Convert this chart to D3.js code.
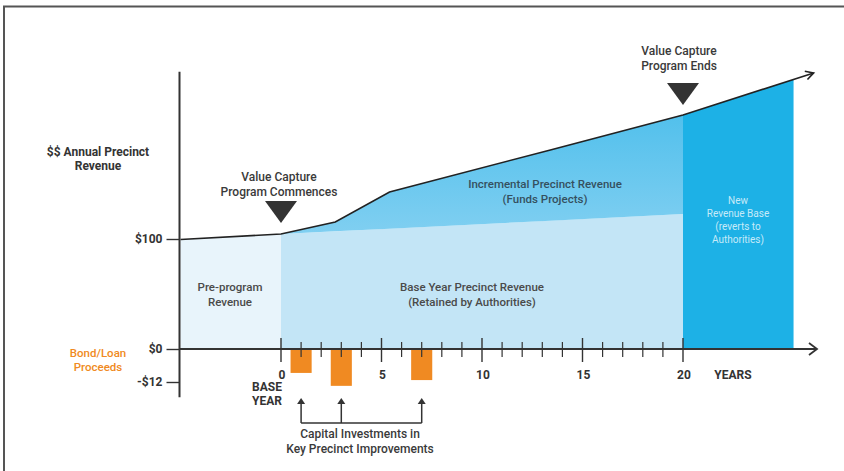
<!DOCTYPE html>
<html>
<head>
<meta charset="utf-8">
<script src="https://cdn.jsdelivr.net/npm/d3@7"></script>
<style>
  html, body { margin: 0; padding: 0; background: #fff; }
  svg { display: block; }
  text { font-family: Roboto, "Liberation Sans", sans-serif; }
</style>
</head>
<body>
<svg id="chart" width="844" height="471"></svg>
<script>
// ---- data ----
const revenueYears  = [-5, 0, 2.7, 5.4, 13.4, 20, 26.5];
const revenueValues = [99.5, 104.5, 115.5, 142.7, 181, 212.7, 251];
const baseYears  = [0, 20];
const baseValues = [104.5, 122.7];
const newBaseEndYear = 25.5;
const bondYears  = [1, 3, 7];
const bondValues = [-8.7, -13.4, -11.3];
const yTickValues = [100, 0, -12];
const yTickLabels = ["$100", "$0", "-$12"];
const xMajorTicks = [0, 5, 10, 15, 20];
const xMinorTicks = [1,2,3,4,6,7,8,9,11,12,13,14,16,17,18,19];
const arrowYears = [1, 3, 7];

const svg = d3.select("#chart");

// scales
const x = d3.scaleLinear().domain([0, 20]).range([281, 683]);
const y = d3.scaleLinear().domain([-12, 0, 100]).range([382, 349, 239]);

const revAt = d3.scaleLinear().domain(revenueYears).range(revenueValues);
const baseAt = d3.scaleLinear().domain(baseYears).range(baseValues);

// frame
svg.append("path").attr("d", "M4,471 V6.5 H844")
  .attr("fill", "none").attr("stroke", "#555").attr("stroke-width", 2);

const defs = svg.append("defs");
const g1 = defs.append("linearGradient").attr("id", "incGrad").attr("x1", 0).attr("y1", 0).attr("x2", 0).attr("y2", 1);
g1.append("stop").attr("offset", "0%").attr("stop-color", "#52c0ec");
g1.append("stop").attr("offset", "100%").attr("stop-color", "#80cff1");

const area = d3.area().x(d => x(d[0])).y0(d => y(d[2])).y1(d => y(d[1]));

// pre-program region
const preYears = revenueYears.filter(v => v <= 0);
svg.append("path")
  .datum(preYears.map(t => [t, revAt(t), 0]))
  .attr("d", area).attr("fill", "#e8f4fb");

// base year region
svg.append("path")
  .datum(baseYears.map((t, i) => [t, baseValues[i], 0]))
  .attr("d", area).attr("fill", "#c3e5f6");

// incremental region
const incYears = revenueYears.filter(v => v >= 0 && v <= 20);
svg.append("path")
  .datum(incYears.map(t => [t, revAt(t), baseAt(t)]))
  .attr("d", area).attr("fill", "url(#incGrad)");

// new revenue base region
const nbYears = [20, newBaseEndYear];
svg.append("path")
  .datum(nbYears.map(t => [t, revAt(t), 0]))
  .attr("d", area).attr("fill", "#1db1e6");

// revenue line
svg.append("path")
  .datum(revenueYears.map((t, i) => [t, revenueValues[i]]))
  .attr("d", d3.line().x(d => x(d[0])).y(d => y(d[1])))
  .attr("fill", "none").attr("stroke", "#222").attr("stroke-width", 1.6);
{
  const n = revenueYears.length;
  const x2 = x(revenueYears[n-1]), y2 = y(revenueValues[n-1]);
  const x1 = x(revenueYears[n-2]), y1 = y(revenueValues[n-2]);
  const ang = Math.atan2(y2 - y1, x2 - x1);
  const L = 9, a = 0.5;
  svg.append("path")
    .attr("d", `M${x2 - L*Math.cos(ang - a)},${y2 - L*Math.sin(ang - a)} L${x2},${y2} L${x2 - L*Math.cos(ang + a)},${y2 - L*Math.sin(ang + a)}`)
    .attr("fill", "none").attr("stroke", "#222").attr("stroke-width", 1.6);
}

// bond bars
const bw = x(1) - x(0) + 1;
svg.selectAll("rect.bond").data(bondYears).enter().append("rect")
  .attr("class", "bond")
  .attr("x", (d) => x(d) - bw/2)
  .attr("y", y(0))
  .attr("width", bw)
  .attr("height", (d, i) => y(bondValues[i]) - y(0))
  .attr("fill", "#f08a22");

// x axis line
const xAxisStart = x.invert(179), xAxisEnd = x.invert(817);
svg.append("line").attr("x1", x(xAxisStart)).attr("x2", x(xAxisEnd))
  .attr("y1", y(0)).attr("y2", y(0)).attr("stroke", "#333").attr("stroke-width", 2);
svg.append("path")
  .attr("d", `M${x(xAxisEnd)-8},${y(0)-6} L${x(xAxisEnd)},${y(0)} L${x(xAxisEnd)-8},${y(0)+6}`)
  .attr("fill", "none").attr("stroke", "#333").attr("stroke-width", 1.8);

// x ticks
svg.selectAll("line.major").data(xMajorTicks).enter().append("line")
  .attr("x1", d => x(d)).attr("x2", d => x(d))
  .attr("y1", y(0) - 11).attr("y2", y(0) + 13)
  .attr("stroke", "#333").attr("stroke-width", 1.4);
svg.selectAll("line.minor").data(xMinorTicks).enter().append("line")
  .attr("x1", d => x(d)).attr("x2", d => x(d))
  .attr("y1", y(0) - 7).attr("y2", y(0) + 8)
  .attr("stroke", "#333").attr("stroke-width", 1.2);
svg.selectAll("text.xt").data(xMajorTicks).enter().append("text")
  .attr("x", d => x(d) + 1).attr("y", 379)
  .attr("text-anchor", "middle").attr("font-size", 12).attr("font-weight", 700)
  .attr("fill", "#333").text(d => d);
svg.append("text").attr("x", 733).attr("y", 379).attr("text-anchor", "middle")
  .attr("font-size", 12).attr("font-weight", 700).attr("fill", "#333").text("YEARS");
svg.append("text").attr("x", 267).attr("y", 391).attr("text-anchor", "middle")
  .attr("font-size", 12).attr("font-weight", 700).attr("fill", "#333").text("BASE");
svg.append("text").attr("x", 267).attr("y", 405).attr("text-anchor", "middle")
  .attr("font-size", 12).attr("font-weight", 700).attr("fill", "#333").text("YEAR");

// y axis
const yAxis = d3.axisLeft(y).tickValues(yTickValues).tickSize(13)
  .tickFormat((d, i) => yTickLabels[i]).tickPadding(4);
const yg = svg.append("g").attr("transform", "translate(179.5,0)").call(yAxis);
yg.select(".domain").remove();
yg.selectAll(".tick line").attr("stroke", "#333").attr("stroke-width", 1.4);
yg.selectAll(".tick text").attr("font-size", 12).attr("font-weight", 700).attr("fill", "#333")
  .attr("font-family", "Roboto, sans-serif");
svg.append("line").attr("x1", 179.5).attr("x2", 179.5)
  .attr("y1", y(252)).attr("y2", y(-17.5)).attr("stroke", "#333").attr("stroke-width", 2);

// y axis titles
svg.append("text").attr("x", 98).attr("y", 156).attr("text-anchor", "middle")
  .attr("font-size", 12).attr("font-weight", 700).attr("fill", "#333").text("$$ Annual Precinct");
svg.append("text").attr("x", 98).attr("y", 170).attr("text-anchor", "middle")
  .attr("font-size", 12).attr("font-weight", 700).attr("fill", "#333").text("Revenue");
svg.append("text").attr("x", 98).attr("y", 357).attr("text-anchor", "middle")
  .attr("font-size", 11.5).attr("font-weight", 500).attr("fill", "#f08a22").text("Bond/Loan");
svg.append("text").attr("x", 98).attr("y", 371).attr("text-anchor", "middle")
  .attr("font-size", 11.5).attr("font-weight", 500).attr("fill", "#f08a22").text("Proceeds");

// triangles
function tri(cx, top) {
  svg.append("path").attr("d", `M${cx-16},${top} L${cx+16},${top} L${cx},${top+22} Z`).attr("fill", "#333");
}
tri(x(0), 201);
tri(x(20), 83);
function label(lines, cx, y0, opts = {}) {
  lines.forEach((t, i) => {
    svg.append("text").attr("x", cx).attr("y", y0 + i * (opts.lh || 15))
      .attr("text-anchor", "middle").attr("font-size", opts.size || 12)
      .attr("font-weight", opts.weight || 500).attr("fill", opts.fill || "#3a3a3a")
      .attr("fill-opacity", opts.op || 1).text(t);
  });
}
label(["Value Capture", "Program Commences"], 279, 181);
label(["Value Capture", "Program Ends"], 679, 55);
label(["Pre-program", "Revenue"], 230, 291, {size: 11.5, weight: 500, fill: "#4a4a4a"});
label(["Base Year Precinct Revenue", "(Retained by Authorities)"], 472, 291, {size: 11.5, weight: 500, fill: "#4a4a4a"});
label(["Incremental Precinct Revenue", "(Funds Projects)"], 545, 188, {size: 11.5, weight: 500, fill: "#35505e"});
label(["New", "Revenue Base", "(reverts to", "Authorities)"], 738, 204, {size: 10, weight: 400, fill: "#ffffff", lh: 13, op: 0.75});

// capital investment arrows
const arrY1 = 398, arrY2 = 423;
arrowYears.forEach(t => {
  const ax = x(t);
  svg.append("line").attr("x1", ax).attr("x2", ax).attr("y1", arrY1 + 3).attr("y2", arrY2)
    .attr("stroke", "#333").attr("stroke-width", 1.5);
  svg.append("path").attr("d", `M${ax-4},${arrY1+6} L${ax},${arrY1} L${ax+4},${arrY1+6} Z`).attr("fill", "#333");
});
svg.append("line").attr("x1", x(arrowYears[0])).attr("x2", x(arrowYears[arrowYears.length-1]))
  .attr("y1", arrY2).attr("y2", arrY2).attr("stroke", "#333").attr("stroke-width", 1.5);
label(["Capital Investments in", "Key Precinct Improvements"], 360, 438, {size: 12, weight: 500});
</script>
</body>
</html>
